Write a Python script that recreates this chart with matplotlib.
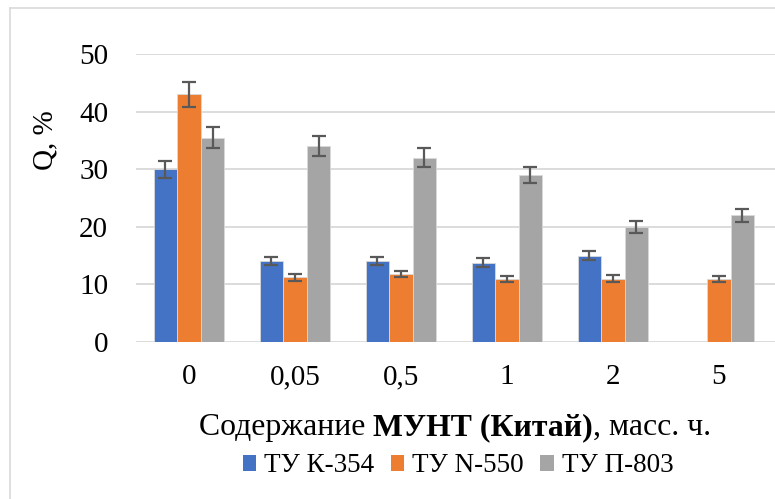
import numpy as np
import matplotlib
matplotlib.use("Agg")
import matplotlib.pyplot as plt
from matplotlib.lines import Line2D
from matplotlib.patches import Patch

plt.rcParams['font.family'] = ['Liberation Serif', 'DejaVu Serif']

categories = ['0', '0,05', '0,5', '1', '2', '5']
series = ['ТУ К-354', 'ТУ N-550', 'ТУ П-803']
colors = ['#4472C4', '#ED7D31', '#A5A5A5']

k354 = [30, 14, 14, 13.8, 15, np.nan]
n550 = [43, 11.2, 11.8, 10.9, 11, 10.9]
p803 = [35.5, 34, 32, 29, 20, 22]

k354_err = [1.5, 0.7, 0.7, 0.7, 0.75, np.nan]
n550_err = [2.2, 0.55, 0.6, 0.55, 0.55, 0.55]
p803_err = [1.8, 1.7, 1.6, 1.45, 1.0, 1.1]

values = [k354, n550, p803]
errors = [k354_err, n550_err, p803_err]

fig = plt.figure(figsize=(7.75, 4.99), dpi=100)
ax = fig.add_axes([136/775, 1 - 342/499, (775 - 136)/775, (342 - 54)/499])

x = np.arange(len(categories))
w = 1 / 4.5
for i, (vals, errs) in enumerate(zip(values, errors)):
    pos = x + (i - 1) * w
    ax.bar(pos, vals, width=w, color=colors[i], edgecolor='#d9d9d9',
           linewidth=0.6, zorder=3)
    ax.errorbar(pos, vals, yerr=errs, fmt='none', ecolor='#595959',
                elinewidth=1.6, capsize=5, capthick=1.6, zorder=4)

ax.set_xlim(-0.5, len(categories) - 0.5 + 0.03)
ax.set_ylim(0, 50)
ax.set_yticks(range(0, 51, 10))
ax.set_xticks(x)
ax.set_xticklabels(categories)
ax.grid(axis='y', color='#d9d9d9', linewidth=1.3, zorder=0)
for s in ax.spines.values():
    s.set_visible(False)
ax.tick_params(axis='both', length=0, labelsize=21, colors='black')
ax.tick_params(axis='y', pad=20)
ax.tick_params(axis='x', pad=16)

fig.text(45/775, 1 - 140/499, 'Q, %', rotation=90, fontsize=21,
         ha='center', va='center')

# x title with bold middle part
t1 = fig.text(199/775, 1 - 435/499, 'Содержание ', fontsize=22.9, va='baseline')
t2 = ax.annotate('МУНТ (Китай)', xy=(1, 0), xycoords=t1, fontsize=22.9,
                 fontweight='bold', va='bottom')
t3 = ax.annotate(', масс. ч.', xy=(1, 0), xycoords=t2, fontsize=22.9,
                 va='bottom')

handles = [Patch(facecolor=c) for c in colors]
fig.legend(handles, series, loc='center', bbox_to_anchor=(458/775, 1 - 466/499),
           ncol=3, frameon=False, fontsize=19.5, handlelength=0.5,
           handleheight=0.5, handletextpad=0.3, columnspacing=0.6,
           borderpad=0, borderaxespad=0)

# chart border
fig.add_artist(Line2D([10/775, 10/775], [0, 1 - 8/499], color='#d9d9d9', lw=1.2))
fig.add_artist(Line2D([10/775, 1], [1 - 8/499, 1 - 8/499], color='#d9d9d9', lw=1.2))

fig.savefig('out.png', dpi=100)
